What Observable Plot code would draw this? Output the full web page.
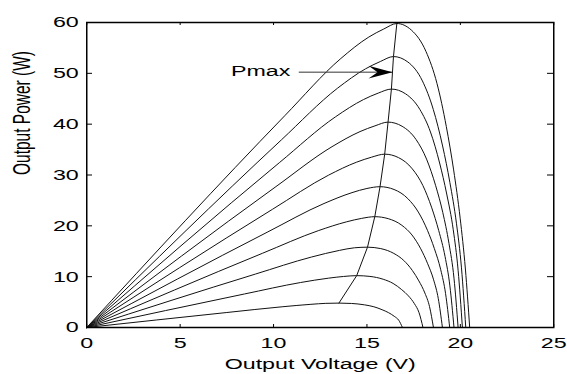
<!DOCTYPE html>
<html>
<head>
<meta charset="utf-8">
<script src="https://cdn.jsdelivr.net/npm/d3@7"></script>
<script src="https://cdn.jsdelivr.net/npm/@observablehq/plot@0.6"></script>
<style>
  html, body { margin: 0; padding: 0; background: #fff; }
  #chart svg { display: block; }
</style>
</head>
<body>
<div id="chart"></div>
<script>
// ---- tick values ----
const xTicks = [0, 5, 10, 15, 20, 25];
const yTicks = [0, 10, 20, 30, 40, 50, 60];

// ---- P-V curves (voltage V, power W) ----
const v1  = [0, 7.5, 10.5, 12.0, 12.8, 13.5, 14.18, 14.86, 15.37, 15.81, 16.15, 16.46, 16.7, 16.9];
const p1  = [0, 2.95, 4.09, 4.56, 4.75, 4.8, 4.73, 4.46, 4.08, 3.50, 2.93, 2.21, 1.44, 0];
const v2  = [0, 8.45, 11.45, 12.95, 13.75, 14.45, 15.16, 15.87, 16.40, 16.86, 17.22, 17.54, 17.79, 18.0];
const p2  = [0, 6.60, 8.85, 9.71, 10.04, 10.2, 10.05, 9.49, 8.67, 7.45, 6.22, 4.69, 2.9, 0];
const v3  = [0, 9.03, 12.03, 13.53, 14.33, 15.03, 15.74, 16.44, 16.97, 17.43, 17.78, 18.10, 18.35, 18.56];
const p3  = [0, 10.51, 13.86, 15.17, 15.68, 15.8, 15.52, 14.57, 13.19, 11.22, 9.16, 6.79, 4.11, 0];
const v4  = [0, 9.42, 12.42, 13.92, 14.72, 15.42, 16.14, 16.87, 17.41, 17.88, 18.24, 18.57, 18.82, 19.04];
const p4  = [0, 14.62, 19.08, 20.80, 21.47, 21.8, 21.41, 20.10, 18.20, 15.48, 12.64, 9.37, 5.67, 0];
const v5  = [0, 9.7, 12.7, 14.2, 15.0, 15.7, 16.45, 17.19, 17.75, 18.24, 18.61, 18.95, 19.21, 19.43];
const p5  = [0, 18.82, 24.39, 26.53, 27.35, 27.7, 27.15, 25.35, 22.71, 19.11, 15.51, 11.36, 6.65, 0];
const v6  = [0, 9.95, 12.95, 14.45, 15.25, 15.95, 16.69, 17.43, 17.99, 18.47, 18.84, 19.18, 19.44, 19.66];
const p6  = [0, 23.27, 29.98, 32.53, 33.51, 34.1, 33.42, 31.20, 27.96, 23.53, 19.10, 13.98, 8.18, 0];
const v7  = [0, 10.13, 13.13, 14.63, 15.43, 16.13, 16.88, 17.63, 18.19, 18.68, 19.06, 19.39, 19.66, 19.88];
const p7  = [0, 27.72, 35.57, 38.54, 39.67, 40.4, 39.59, 36.97, 33.13, 27.88, 22.62, 16.56, 9.70, 0];
const v8  = [0, 10.31, 13.31, 14.81, 15.61, 16.31, 17.07, 17.83, 18.40, 18.89, 19.27, 19.62, 19.88, 20.11];
const p8  = [0, 32.42, 41.43, 44.83, 46.12, 46.9, 45.96, 42.91, 38.46, 32.36, 26.26, 19.23, 11.26, 0];
const v9  = [0, 10.42, 13.42, 14.92, 15.72, 16.42, 17.19, 17.97, 18.55, 19.05, 19.44, 19.79, 20.06, 20.29];
const p9  = [0, 36.91, 47.06, 50.88, 52.33, 53.3, 52.23, 48.50, 42.91, 35.71, 28.52, 20.52, 11.73, 0];
const v10 = [0, 10.6, 13.6, 15.1, 15.9, 16.6, 17.38, 18.16, 18.75, 19.25, 19.64, 19.99, 20.27, 20.5];
const p10 = [0, 41.66, 52.91, 57.14, 58.72, 59.8, 58.5, 54.3, 48.0, 39.5, 31.0, 21.5, 11.5, 0];

// ---- annotation ----
const annotationText = ["Pmax"];
const annotationTextAt = [10.9, 50.4];   // [V, P]
const arrowFrom = [11.35, 50.23];
const arrowTo   = [16.37, 50.23];

const xLabel = "Output Voltage (V)";
const yLabel = "Output Power (W)";

// ---- build tables ----
const series = [[v1,p1],[v2,p2],[v3,p3],[v4,p4],[v5,p5],[v6,p6],[v7,p7],[v8,p8],[v9,p9],[v10,p10]];
const rows = series.flatMap(([v, p], i) => v.map((x, j) => ({V: x, P: p[j], s: i})));
const peaks = series.map(([v, p]) => { const j = p.indexOf(Math.max(...p)); return {V: v[j], P: p[j]}; });
const annot = [{label: annotationText[0], tx: annotationTextAt[0], ty: annotationTextAt[1],
                x1: arrowFrom[0], y1: arrowFrom[1], x2: arrowTo[0], y2: arrowTo[1]}];

// ---- layout (the picture is horizontally stretched; draw narrow, stretch via viewBox) ----
const S = 1.5, W = 567 / S, H = 374;
const mL = 86 / S, mR = 14 / S, mT = 22, mB = 47;
const frameW = W - mL - mR, frameH = H - mT - mB;

const arrowHead = {
  draw(ctx) {
    ctx.moveTo(0, 0);
    ctx.lineTo(-16, -6.3);
    ctx.lineTo(-10, 0);
    ctx.lineTo(-16, 6.3);
    ctx.closePath();
  }
};

const plot = Plot.plot({
  width: W, height: H,
  marginLeft: mL, marginRight: mR, marginTop: mT, marginBottom: mB,
  x: {domain: [0, 25]},
  y: {domain: [0, 60]},
  style: {fontFamily: "'Liberation Sans', Arial, Helvetica, sans-serif", fontSize: "15.5px", color: "#000", background: "#fff", overflow: "visible"},
  marks: [
    Plot.axisX(xTicks, {tickSize: 0, tickPadding: 9, label: null}),
    Plot.axisY(yTicks, {tickSize: 0, tickPadding: 5.3, label: null}),
    Plot.tickY(yTicks, {insetRight: frameW - 4, stroke: "#000"}),
    Plot.tickY(yTicks, {insetLeft: frameW - 4, stroke: "#000"}),
    Plot.tickX(xTicks, {insetTop: frameH - 3, stroke: "#000"}),
    Plot.tickX(xTicks, {insetBottom: frameH - 3, stroke: "#000"}),
    Plot.line(rows, {x: "V", y: "P", z: "s", curve: "monotone-x", stroke: "#111", strokeWidth: 1}),
    Plot.line(peaks, {x: "V", y: "P", stroke: "#111", strokeWidth: 1}),
    Plot.link(annot, {x1: "x1", y1: "y1", x2: "x2", y2: "y2", stroke: "#333", strokeWidth: 1}),
    Plot.dot(annot, {x: "x2", y: "y2", symbol: arrowHead, r: 1, fill: "#000", stroke: "none"}),
    Plot.text(annot, {x: "tx", y: "ty", text: "label", textAnchor: "end"}),
    Plot.text([xLabel], {frameAnchor: "bottom", dy: 41, text: d => d}),
    Plot.text([yLabel], {frameAnchor: "left", dx: -43, rotate: -90, text: d => d}),
    Plot.frame({stroke: "#000", strokeWidth: 1.5})
  ]
});

plot.setAttribute("viewBox", `0 0 ${W} ${H}`);
plot.setAttribute("preserveAspectRatio", "none");
plot.setAttribute("width", 567);
plot.setAttribute("height", 374);
plot.style.width = "567px";
plot.style.height = "374px";
plot.style.maxWidth = "none";
plot.querySelectorAll("path, line, rect").forEach(el => el.setAttribute("vector-effect", "non-scaling-stroke"));
document.getElementById("chart").appendChild(plot);
</script>
</body>
</html>
